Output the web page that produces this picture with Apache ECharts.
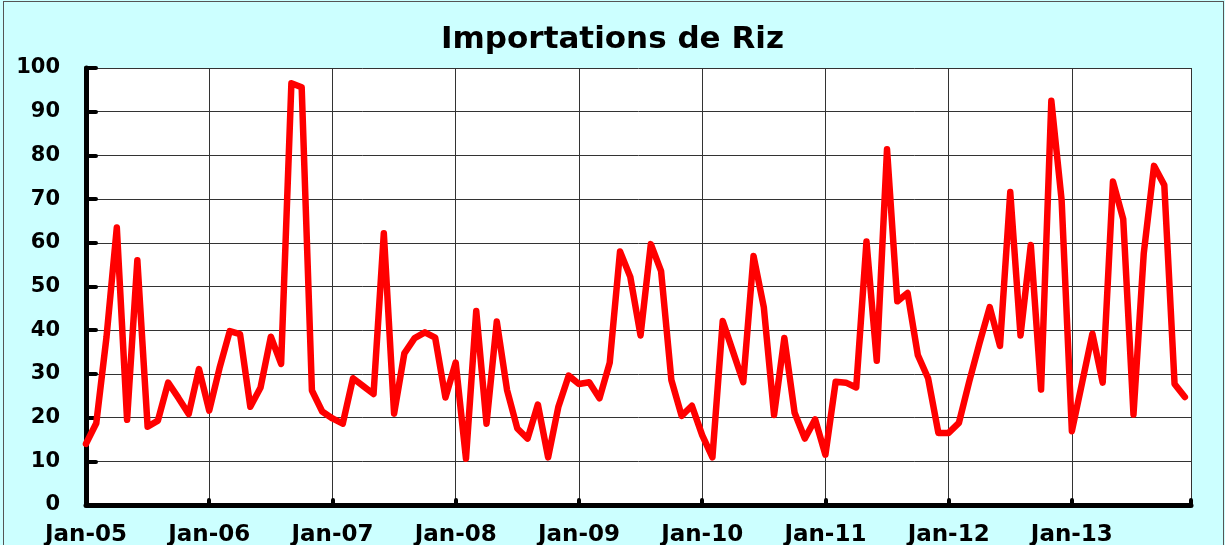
<!DOCTYPE html>
<html>
<head>
<meta charset="utf-8">
<title>Importations de Riz</title>
<script src="https://cdn.jsdelivr.net/npm/echarts@6/dist/echarts.min.js"></script>
<style>
  html, body { margin: 0; padding: 0; background: #ccffff; overflow: hidden; }
  #chart { position: absolute; left: 0; top: 0; width: 1225px; height: 545px; }
  .frame { position: absolute; left: 3px; top: 1px; width: 1219px; height: 560px; border: 1px solid #555; pointer-events: none; }
</style>
</head>
<body>
<div id="chart"></div>
<div class="frame"></div>
<script>
// tick labels, one per January
const tickLabels = ['Jan-05', 'Jan-06', 'Jan-07', 'Jan-08', 'Jan-09', 'Jan-10', 'Jan-11', 'Jan-12', 'Jan-13']

// monthly imports, Jan-05 .. Dec-13
const imports2005 = [14.0, 18.7, 38.5, 63.5, 19.5, 56.0, 17.9, 19.3, 28.0, 24.5, 20.8, 31.1]
const imports2006 = [21.6, 31.3, 39.8, 39.1, 22.5, 26.9, 38.5, 32.3, 96.5, 95.6, 26.2, 21.4]
const imports2007 = [19.8, 18.6, 29.0, 27.2, 25.4, 62.2, 20.9, 34.7, 38.2, 39.5, 38.3, 24.6]
const imports2008 = [32.6, 10.6, 44.4, 18.6, 42.0, 26.3, 17.5, 15.2, 23.0, 10.9, 22.5, 29.6]
const imports2009 = [27.7, 28.1, 24.4, 32.6, 58.0, 52.2, 38.8, 59.7, 53.5, 28.6, 20.4, 22.7]
const imports2010 = [16.0, 10.9, 42.1, 35.1, 28.1, 57.0, 45.3, 20.6, 38.2, 21.1, 15.2, 19.6]
const imports2011 = [11.5, 28.2, 28.0, 26.9, 60.3, 33.0, 81.4, 46.6, 48.5, 34.3, 29.0, 16.5]
const imports2012 = [16.5, 18.8, 28.2, 37.0, 45.3, 36.4, 71.6, 38.8, 59.5, 26.4, 92.5, 69.8]
const imports2013 = [16.9, 28.0, 39.2, 28.0, 74.0, 65.4, 20.7, 57.6, 77.6, 73.2, 27.7, 24.7]

const values = [].concat(imports2005, imports2006, imports2007, imports2008, imports2009,
  imports2010, imports2011, imports2012, imports2013)

const chart = echarts.init(document.getElementById('chart'))

const option = {
  animation: false,
  backgroundColor: 'transparent',
  title: {
    text: 'Importations de Riz',
    left: 'center',
    top: 19,
    textStyle: {
      color: '#000',
      fontFamily: 'DejaVu Sans',
      fontWeight: 'bold',
      fontSize: 31
    }
  },
  grid: {
    left: 86,
    right: 34,
    top: 68,
    bottom: 40,
    outerBoundsMode: 'none',
    show: true,
    backgroundColor: '#ffffff',
    borderWidth: 0
  },
  xAxis: {
    type: 'value',
    min: 0,
    max: 107.6,
    interval: 12,
    axisLine: { lineStyle: { color: '#000', width: 5 } },
    axisTick: { inside: true, length: 5, lineStyle: { color: '#000', width: 4, cap: 'round' } },
    axisLabel: {
      margin: 19,
      color: '#000',
      fontFamily: 'DejaVu Sans',
      fontWeight: 'bold',
      fontSize: 23,
      formatter: v => (v % 12 === 0 && tickLabels[v / 12]) || ''
    },
    splitLine: { show: true, lineStyle: { color: '#333', width: 1 } }
  },
  yAxis: {
    type: 'value',
    min: 0,
    max: 100,
    interval: 10,
    axisLine: { show: true, lineStyle: { color: '#000', width: 5 } },
    axisTick: { show: true, inside: true, length: 10, lineStyle: { color: '#000', width: 4, cap: 'round' } },
    axisLabel: {
      margin: 26,
      color: '#000',
      fontFamily: 'DejaVu Sans',
      fontWeight: 'bold',
      fontSize: 21
    },
    splitLine: { show: true, lineStyle: { color: '#333', width: 1 } }
  },
  series: [{
    name: 'Importations de Riz',
    type: 'line',
    data: values.map((v, i) => [i, v]),
    symbol: 'none',
    lineStyle: { color: '#ff0000', width: 6.5, join: 'round', cap: 'round' }
  }]
}

chart.setOption(option)

window.addEventListener('resize', () => {
  chart && chart.resize()
})
</script>
</body>
</html>
